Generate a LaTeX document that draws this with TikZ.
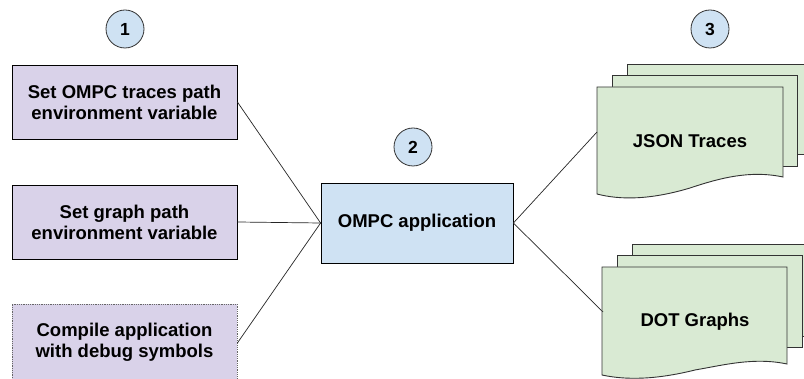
\documentclass[tikz,border=0pt]{standalone}
\usepackage{fontspec}
\setmainfont{Liberation Sans}
\definecolor{lav}{HTML}{D9D2E9}
\definecolor{lblue}{HTML}{CFE2F3}
\definecolor{lgreen}{HTML}{D9EAD3}
\definecolor{edge}{HTML}{333333}
\tikzset{
  stepbox/.style={draw=black, line width=0.8pt, fill=lav, minimum width=225pt, minimum height=74pt, align=center, font=\fontsize{18.5}{21}\selectfont\bfseries},
  appbox/.style={draw=black, line width=0.8pt, fill=lblue, minimum width=192pt, minimum height=80pt, align=center, font=\fontsize{18.5}{21}\selectfont\bfseries},
  numcirc/.style={circle, draw=edge, line width=0.8pt, fill=lblue, minimum size=38pt, inner sep=0pt, font=\fontsize{17.5}{19}\selectfont\bfseries},
  sheet/.style={draw=edge, line width=0.9pt, fill=lgreen},
  doctext/.style={font=\fontsize{18.5}{21}\selectfont\bfseries},
  conn/.style={draw=black!85, line width=0.7pt}
}
\begin{document}
\begin{tikzpicture}[x=1pt,y=-1pt]
\clip (0,0) rectangle (804,379);
\fill[white] (0,0) rectangle (804,379);
% number circles
\node[numcirc] (c1) at (125,29) {1};
\node[numcirc] (c2) at (413,147) {2};
\node[numcirc] (c3) at (710,29) {3};
% left boxes
\node[stepbox] (b1) at (124.5,102) {Set OMPC traces path\\environment variable};
\node[stepbox] (b2) at (124.5,222) {Set graph path\\environment variable};
\node[stepbox, draw=black!60, densely dotted, minimum height=78pt] (b3) at (124.5,343) {};
\node[doctext, align=center] (b3t) at (124.5,342) {Compile application\\with debug symbols};
% app box
\node[appbox] (app) at (417,223) {OMPC application};
% JSON documents
\filldraw[sheet] (627,64) rectangle (812,154);
\filldraw[sheet] (612,75) rectangle (797,166);
\filldraw[sheet] (597,87) -- (783,87) -- (783,177) .. controls (750,170) and (720,178) .. (690,188) .. controls (650,200) and (620,200) .. (597,194) -- cycle;
\node[doctext] (json) at (690,141) {JSON Traces};
\coordinate (jsonin) at (597,132);
% DOT documents
\filldraw[sheet] (632,244) rectangle (812,336);
\filldraw[sheet] (617,255) rectangle (802,347);
\filldraw[sheet] (602,267) -- (787,267) -- (787,364) .. controls (754,357) and (724,365) .. (695,370) .. controls (655,380) and (625,380) .. (602,375) -- cycle;
\node[doctext] (dot) at (695,322) {DOT Graphs};
\coordinate (dotin) at (603,312);
% connectors
\draw[conn] (b1.east) -- (app.west);
\draw[conn] (b2.east) -- (app.west);
\draw[conn] (b3.east) -- (app.west);
\draw[conn] (app.east) -- (jsonin);
\draw[conn] (app.east) -- (dotin);
\end{tikzpicture}
\end{document}
